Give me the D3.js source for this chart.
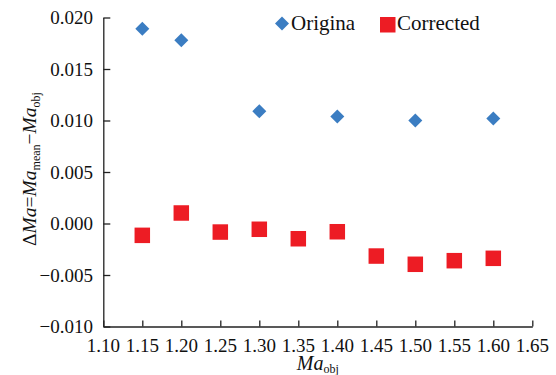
<!DOCTYPE html>
<html>
<head>
<meta charset="utf-8">
<script src="https://cdn.jsdelivr.net/npm/d3@7"></script>
<style>
  html, body { margin: 0; padding: 0; background: #fff; }
  svg { display: block; }
  svg text { font-family: "Liberation Serif", "Times New Roman", serif; }
</style>
</head>
<body>
<svg id="chart" width="556" height="375"></svg>
<script>
// Mach number of the test objective
const maObj = [1.15, 1.20, 1.25, 1.30, 1.35, 1.40, 1.45, 1.50, 1.55, 1.60];
// Deviation before correction (only measured at some points)
const originalMa = [1.15, 1.20, 1.30, 1.40, 1.50, 1.60];
const originalDelta = [0.0189, 0.0178, 0.0109, 0.0104, 0.0100, 0.0102];
// Deviation after correction
const correctedDelta = [-0.00115, 0.00102, -0.00083, -0.00056, -0.00148, -0.00080, -0.00316, -0.00396, -0.00361, -0.00338];
// Axis ticks
const xTicks = [1.10, 1.15, 1.20, 1.25, 1.30, 1.35, 1.40, 1.45, 1.50, 1.55, 1.60, 1.65];
const yTicks = [-0.010, -0.005, 0.000, 0.005, 0.010, 0.015, 0.020];
const seriesNames = ["Origina", "Corrected"];
const colors = ["#3b7dc2", "#ed1c24"];

const svg = d3.select("#chart");
const plot = { left: 103.3, right: 532.3, top: 17.5, bottom: 326.5 };

const x = d3.scaleLinear().domain([1.10, 1.65]).range([plot.left, plot.right]);
const y = d3.scaleLinear().domain([-0.010, 0.020]).range([plot.bottom, plot.top]);
const fmtX = d3.format(".2f");
const fmtY = d3.format(".3f");

const axisColor = "#222";

// Axis lines and inward-pointing ticks; labels are set in serif text below
svg.append("g")
  .attr("transform", `translate(0,${plot.bottom})`)
  .call(d3.axisBottom(x).tickValues(xTicks).tickFormat("").tickSizeInner(-6).tickSizeOuter(0));
svg.append("g")
  .attr("transform", `translate(${plot.left},0)`)
  .call(d3.axisLeft(y).tickValues(yTicks).tickFormat("").tickSizeInner(-7).tickSizeOuter(0));
svg.selectAll(".domain, .tick line").attr("stroke", axisColor).attr("stroke-width", 1.3);

// Tick labels
const labels = svg.append("g").style("font-size", "19px").attr("fill", "#111");
labels.selectAll("text.xl").data(xTicks).join("text")
  .attr("class", "xl")
  .attr("x", d => x(d)).attr("y", 351.5)
  .attr("text-anchor", "middle")
  .text(fmtX);
labels.selectAll("text.yl").data(yTicks).join("text")
  .attr("class", "yl")
  .attr("x", 93).attr("y", d => y(d) + 6.5)
  .attr("text-anchor", "end")
  .text(fmtY);

// Original series: diamonds
const diamond = d3.symbol().type(d3.symbolSquare).size(98);
svg.append("g").selectAll("path")
  .data(originalMa.map((m, i) => [m, originalDelta[i]]))
  .join("path")
  .attr("d", diamond)
  .attr("transform", d => `translate(${x(d[0])},${y(d[1])}) rotate(45)`)
  .attr("fill", colors[0]);

// Corrected series: squares
const sq = 15.5;
svg.append("g").selectAll("rect")
  .data(maObj.map((m, i) => [m, correctedDelta[i]]))
  .join("rect")
  .attr("x", d => x(d[0]) - sq / 2)
  .attr("y", d => y(d[1]) - sq / 2)
  .attr("width", sq)
  .attr("height", sq)
  .attr("fill", colors[1]);

// Legend
const legend = svg.append("g").style("font-size", "21px").attr("fill", "#111");
legend.append("path").attr("d", diamond)
  .attr("transform", "translate(282,23.5) rotate(45)").attr("fill", colors[0]);
legend.append("text").attr("x", 291).attr("y", 30).text(seriesNames[0]);
legend.append("rect").attr("x", 380).attr("y", 17).attr("width", 15.5).attr("height", 15.5).attr("fill", colors[1]);
legend.append("text").attr("x", 397).attr("y", 30).text(seriesNames[1]);

// X axis title: Ma_obj
const xt = svg.append("text")
  .attr("x", (plot.left + plot.right) / 2).attr("y", 370)
  .attr("text-anchor", "middle").style("font-size", "20px").attr("fill", "#111");
xt.append("tspan").attr("font-style", "italic").text("Ma");
xt.append("tspan").style("font-size", "12px").attr("dy", 2.5).text("obj");

// Y axis title: ΔMa = Ma_mean − Ma_obj
const yt = svg.append("text")
  .attr("transform", "translate(36,169) rotate(-90)")
  .attr("text-anchor", "middle").style("font-size", "19.5px").attr("fill", "#111");
yt.append("tspan").text("Δ");
yt.append("tspan").attr("font-style", "italic").text("Ma");
yt.append("tspan").text("=");
yt.append("tspan").attr("font-style", "italic").text("Ma");
yt.append("tspan").style("font-size", "12px").attr("dy", 4).text("mean");
yt.append("tspan").attr("dy", -4).text("−");
yt.append("tspan").attr("font-style", "italic").text("Ma");
yt.append("tspan").style("font-size", "12px").attr("dy", 4).text("obj");
</script>
</body>
</html>
